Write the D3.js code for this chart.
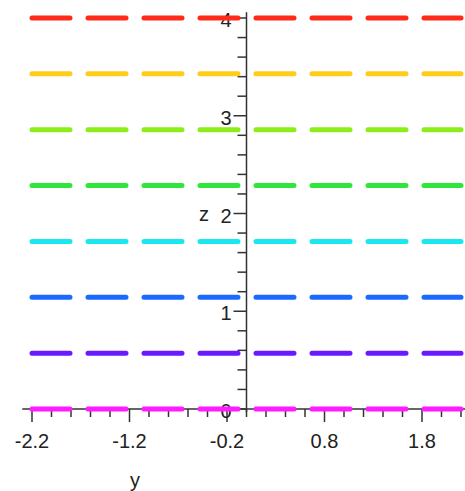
<!DOCTYPE html>
<html>
<head>
<meta charset="utf-8">
<script src="https://cdn.jsdelivr.net/npm/d3@7"></script>
<style>
  body { margin: 0; background: #fff; }
  svg text { font-family: "Liberation Sans", Arial, sans-serif; fill: #222; }
</style>
</head>
<body>
<div id="chart"></div>
<script>
// contour levels (z) drawn as horizontal dashed lines over y in [-2.2, 2.2]
const zLevels = [0, 0.571, 1.143, 1.714, 2.286, 2.857, 3.429, 4.0];
const levelColors = ['#ff1aff', '#6a1aff', '#1a6aff', '#1ae8f0', '#2ee63a', '#8ced1a', '#ffcc1a', '#ff2a1a'];
const yRange = [-2.2, 2.2];
const xTickLabels = [-2.2, -1.2, -0.2, 0.8, 1.8];
const zTickLabels = [0, 1, 2, 3, 4];

const width = 465, height = 491;

const svg = d3.select('#chart')
    .append('svg')
    .attr('width', width)
    .attr('height', height);

const x = d3.scaleLinear().domain([-2.2, 2.2]).range([32, 461]);
const z = d3.scaleLinear().domain([0, 4]).range([409, 18]);

const axisColor = '#333';

// axis lines
svg.append('line')
    .attr('x1', x(-2.3)).attr('x2', width)
    .attr('y1', z(0)).attr('y2', z(0))
    .attr('stroke', axisColor).attr('stroke-width', 1.5);
svg.append('line')
    .attr('x1', x(0)).attr('x2', x(0))
    .attr('y1', z(-0.03)).attr('y2', z(4.06))
    .attr('stroke', axisColor).attr('stroke-width', 1.5);

// x ticks: minor every 0.2, major at labels
const xMinor = d3.range(-2.2, 2.21, 0.2).map(d => +d.toFixed(1));
svg.append('g')
    .selectAll('line')
    .data(xMinor)
    .enter().append('line')
    .attr('x1', d => x(d)).attr('x2', d => x(d))
    .attr('y1', z(0))
    .attr('y2', d => z(0) + (xTickLabels.includes(d) ? 13 : 8))
    .attr('stroke', axisColor).attr('stroke-width', 1.5);

svg.append('g')
    .selectAll('text')
    .data(xTickLabels)
    .enter().append('text')
    .attr('x', d => x(d))
    .attr('y', 448)
    .attr('text-anchor', 'middle')
    .style('font-size', '20px')
    .text(d => d.toFixed(1));

// z ticks
const zMinor = d3.range(0, 4.01, 0.2).map(d => +d.toFixed(1));
svg.append('g')
    .selectAll('line')
    .data(zMinor)
    .enter().append('line')
    .attr('x1', d => x(0) - (zTickLabels.includes(d) ? 13 : 9))
    .attr('x2', x(0))
    .attr('y1', d => z(d)).attr('y2', d => z(d))
    .attr('stroke', axisColor).attr('stroke-width', 1.5);

svg.append('g')
    .selectAll('text')
    .data(zTickLabels)
    .enter().append('text')
    .attr('x', x(0) - 15)
    .attr('y', d => z(d) + 9)
    .attr('text-anchor', 'end')
    .style('font-size', '20px')
    .text(d => d);

// axis titles
svg.append('text')
    .attr('x', 135).attr('y', 487)
    .attr('text-anchor', 'middle')
    .style('font-size', '20px')
    .text('y');
svg.append('text')
    .attr('x', 204).attr('y', 221)
    .attr('text-anchor', 'middle')
    .style('font-size', '20px')
    .text('z');

// contour lines
const line = d3.line().x(d => x(d[0])).y(d => z(d[1]));
svg.append('g')
    .selectAll('path')
    .data(zLevels)
    .enter().append('path')
    .attr('d', d => line([[yRange[0], d], [yRange[1], d]]))
    .attr('fill', 'none')
    .attr('stroke', (d, i) => levelColors[i])
    .attr('stroke-width', 5)
    .attr('stroke-linecap', 'round')
    .attr('stroke-dasharray', '38 18');
</script>
</body>
</html>
